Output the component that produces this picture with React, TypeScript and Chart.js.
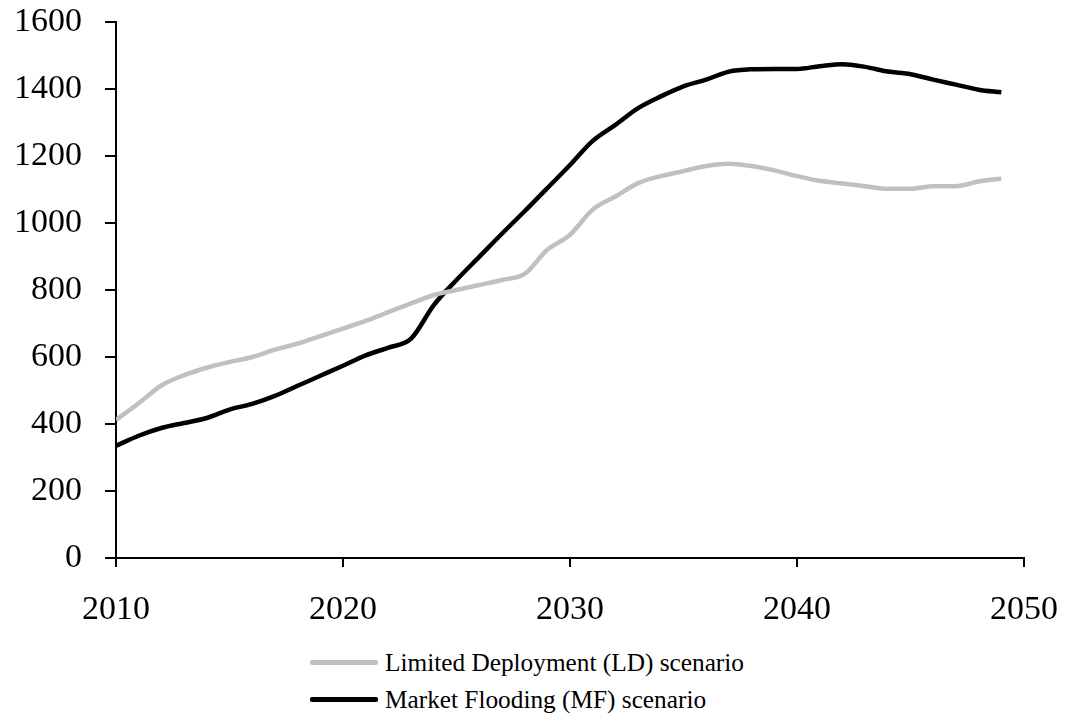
import React, { useEffect, useRef } from "react";
import { Chart, registerables } from "chart.js";

Chart.register(...registerables);

const years = [
  2010, 2011, 2012, 2013, 2014, 2015, 2016, 2017, 2018, 2019,
  2020, 2021, 2022, 2023, 2024, 2025, 2026, 2027, 2028, 2029,
  2030, 2031, 2032, 2033, 2034, 2035, 2036, 2037, 2038, 2039,
  2040, 2041, 2042, 2043, 2044, 2045, 2046, 2047, 2048, 2049,
];

const ldValues = [
  412, 462, 515, 546, 568, 585, 600, 622, 640, 662,
  685, 708, 734, 760, 785, 800, 815, 830, 848, 920,
  965, 1040, 1079, 1119, 1140, 1155, 1170, 1177, 1170, 1157,
  1140, 1126, 1118, 1110, 1102, 1102, 1110, 1110, 1124, 1132,
];

const mfValues = [
  335, 365, 388, 403, 418, 443, 460, 484, 514, 544,
  574, 605, 628, 655, 755, 830, 899, 968, 1035, 1104,
  1173, 1245, 1293, 1343, 1378, 1408, 1428, 1452, 1459, 1460,
  1460, 1468, 1474, 1466, 1452, 1444, 1428, 1413, 1398, 1390,
];

const seriesLabels = [
  "Limited Deployment (LD) scenario",
  "Market Flooding (MF) scenario",
];
const seriesColors = ["#c0c0c0", "#000000"];

const xTicks = [2010, 2020, 2030, 2040, 2050];
const yTicks = [0, 200, 400, 600, 800, 1000, 1200, 1400, 1600];

const FONT = "'Liberation Serif', 'Times New Roman', serif";

function zeroPad(axis: any) {
  axis.paddingTop = 0;
  axis.paddingBottom = 0;
  axis.paddingLeft = 0;
  axis.paddingRight = 0;
}

export default function App() {
  const ref = useRef<HTMLCanvasElement>(null);

  useEffect(() => {
    if (!ref.current) return;
    const chart = new Chart(ref.current, {
      type: "line",
      data: {
        datasets: [
          {
            label: seriesLabels[0],
            data: years.map((y, i) => ({ x: y, y: ldValues[i] })),
            borderColor: seriesColors[0],
            borderWidth: 4.5,
            pointRadius: 0,
            cubicInterpolationMode: "monotone",
            fill: false,
          },
          {
            label: seriesLabels[1],
            data: years.map((y, i) => ({ x: y, y: mfValues[i] })),
            borderColor: seriesColors[1],
            borderWidth: 4.5,
            pointRadius: 0,
            cubicInterpolationMode: "monotone",
            fill: false,
          },
        ],
      },
      options: {
        responsive: false,
        animation: false,
        layout: { padding: { top: 14, right: 33, left: 0, bottom: 0 } },
        plugins: { legend: { display: false }, tooltip: { enabled: false } },
        scales: {
          x: {
            type: "linear",
            min: xTicks[0],
            max: xTicks[xTicks.length - 1],
            afterBuildTicks: (axis: any) => {
              axis.ticks = xTicks.map((v) => ({ value: v }));
            },
            afterFit: (axis: any) => {
              axis.height = 70;
              zeroPad(axis);
            },
            ticks: {
              color: "#000",
              padding: 23,
              font: { family: FONT, size: 34 },
              callback: (v: any) => String(v),
              maxRotation: 0,
              autoSkip: false,
            },
            grid: {
              drawOnChartArea: false,
              drawTicks: true,
              tickLength: 9,
              color: "#000",
              lineWidth: 2,
            },
            border: { color: "#000", width: 2 },
          },
          y: {
            min: yTicks[0],
            max: yTicks[yTicks.length - 1],
            afterBuildTicks: (axis: any) => {
              axis.ticks = yTicks.map((v) => ({ value: v }));
            },
            afterFit: (axis: any) => {
              axis.width = 108;
              zeroPad(axis);
            },
            ticks: {
              color: "#000",
              padding: 23,
              font: { family: FONT, size: 34 },
              callback: (v: any) => String(v),
              autoSkip: false,
            },
            grid: {
              drawOnChartArea: false,
              drawTicks: true,
              tickLength: 11,
              color: "#000",
              lineWidth: 2,
            },
            border: { color: "#000", width: 2 },
          },
        },
      },
    });
    return () => chart.destroy();
  }, []);

  return (
    <div style={{ position: "relative", width: 1049, height: 705 }}>
      <canvas ref={ref} width={1049} height={620} style={{ display: "block" }} />
      <div style={{ position: "absolute", left: 302, top: 636, fontFamily: FONT, fontSize: 25.3, color: "#000" }}>
        {seriesLabels.map((label, i) => (
          <div key={label} style={{ display: "flex", alignItems: "center", height: 37 }}>
            <div style={{ width: 68, height: 4.5, background: seriesColors[i], borderRadius: 2, marginRight: 7 }} />
            <span>{label}</span>
          </div>
        ))}
      </div>
    </div>
  );
}
